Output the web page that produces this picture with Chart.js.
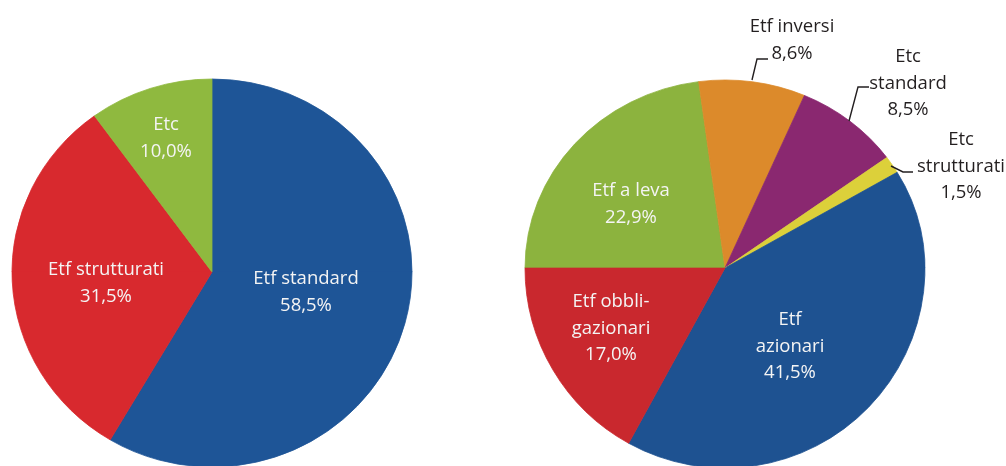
<!DOCTYPE html>
<html>
<head>
<meta charset="utf-8">
<script src="https://cdn.jsdelivr.net/npm/chart.js@4.4.1/dist/chart.umd.min.js"></script>
<style>
  html, body { margin: 0; padding: 0; background: #fff; width: 1006px; height: 466px; overflow: hidden; }
  canvas { position: absolute; top: 0; }
  #left { left: 0; }
  #right { left: 500px; }
</style>
</head>
<body>
<canvas id="left" width="430" height="480"></canvas>
<canvas id="right" width="506" height="480"></canvas>
<script>
// left pie: composizione Etf/Etc
const leftLabels = ['Etf standard', 'Etf strutturati', 'Etc'];
const leftValues = [58.5, 31.5, 10.0];
const leftColors = ['#1e5597', '#d8292e', '#8fb93f'];

// right pie: dettaglio per tipologia
const rightLabels = ['Etf a leva', 'Etf inversi', 'Etc standard', 'Etc strutturati', 'Etf azionari', 'Etf obbligazionari'];
const rightValues = [22.9, 8.6, 8.5, 1.5, 41.5, 17.0];
const rightColors = ['#8cb33e', '#dc8a2b', '#8a2870', '#dcd03a', '#1e5291', '#c9282e'];

const FONT = '"Open Sans", "DejaVu Sans", sans-serif';
const fmt = v => v.toFixed(1).replace('.', ',') + '%';

// where each label goes (canvas coords), how it wraps, and optional leader line
const leftLayout = [
  { lines: ['Etf standard'], x: 306, y: 279, color: '#f4f4f4' },
  { lines: ['Etf strutturati'], x: 106, y: 270, color: '#f4f4f4' },
  { lines: ['Etc'], x: 166, y: 125, color: '#f4f4f4' }
];
const rightLayout = [
  { lines: ['Etf a leva'], x: 131, y: 191, color: '#f4f4f4' },
  { lines: ['Etf inversi'], x: 292, y: 27, color: '#231f20', leader: [[252, 80], [257, 59], [268, 59]] },
  { lines: ['Etc', 'standard'], x: 408, y: 57, color: '#231f20', leader: [[349, 121], [358, 87], [369, 87]] },
  { lines: ['Etc', 'strutturati'], x: 461, y: 140, color: '#231f20', leader: [[391, 166], [403, 172], [413, 172]] },
  { lines: ['Etf', 'azionari'], x: 290, y: 320, color: '#f4f4f4' },
  { lines: ['Etf obbli-', 'gazionari'], x: 111, y: 302, color: '#f4f4f4' }
];

// the original pies are seen in slight perspective: flatter above the centre than below
const ellipse = {
  id: 'ellipse',
  beforeDatasetsDraw(chart, args, opts) {
    const arc = chart.getDatasetMeta(0).data[0];
    const ctx = chart.ctx;
    ctx.save();
    ctx.beginPath();
    ctx.rect(0, 0, chart.width, arc.y);
    ctx.clip();
    ctx.translate(arc.x, arc.y);
    ctx.scale(1, opts.kyTop);
    ctx.translate(-arc.x, -arc.y);
  },
  afterDatasetsDraw(chart, args, opts) {
    const meta = chart.getDatasetMeta(0);
    const arc = meta.data[0];
    const ctx = chart.ctx;
    ctx.restore();
    ctx.save();
    ctx.beginPath();
    ctx.rect(0, arc.y - 0.5, chart.width, chart.height);
    ctx.clip();
    ctx.translate(arc.x, arc.y);
    ctx.scale(1, opts.kyBottom);
    ctx.translate(-arc.x, -arc.y);
    meta.controller.draw();
    ctx.restore();
  }
};

const sliceLabels = {
  id: 'sliceLabels',
  afterDraw(chart, args, opts) {
    const ctx = chart.ctx;
    const values = chart.data.datasets[0].data;
    ctx.save();
    ctx.font = '18.5px ' + FONT;
    ctx.textAlign = 'center';
    ctx.textBaseline = 'middle';
    opts.layout.forEach((l, i) => {
      const lines = l.lines.concat([fmt(values[i])]);
      ctx.fillStyle = l.color;
      lines.forEach((t, k) => ctx.fillText(t, l.x, l.y + k * 26.5));
      if (l.leader) {
        ctx.strokeStyle = '#231f20';
        ctx.lineWidth = 1.4;
        ctx.beginPath();
        l.leader.forEach((p, k) => k ? ctx.lineTo(p[0], p[1]) : ctx.moveTo(p[0], p[1]));
        ctx.stroke();
      }
    });
    ctx.restore();
  }
};

function makePie(id, labels, values, colors, rotation, pad, ky, layout) {
  return new Chart(document.getElementById(id), {
    type: 'pie',
    data: {
      labels: labels,
      datasets: [{
        data: values,
        backgroundColor: colors,
        borderColor: colors,
        borderWidth: 0.8,
        hoverOffset: 0
      }]
    },
    options: {
      responsive: false,
      animation: false,
      rotation: rotation,
      radius: 200,
      layout: { padding: pad },
      plugins: {
        legend: { display: false },
        tooltip: { enabled: false },
        ellipse: ky,
        sliceLabels: { layout: layout }
      },
      events: []
    },
    plugins: [ellipse, sliceLabels]
  });
}

// left: centre (212, 272); right: centre (725, 268)
makePie('left', leftLabels, leftValues, leftColors, 0,
  { left: 12, right: 18, top: 72, bottom: 8 }, { kyTop: 0.965, kyBottom: 0.975 }, leftLayout);
makePie('right', rightLabels, rightValues, rightColors, 270,
  { left: 25, right: 81, top: 68, bottom: 12 }, { kyTop: 0.94, kyBottom: 1.0 }, rightLayout);
</script>
</body>
</html>
